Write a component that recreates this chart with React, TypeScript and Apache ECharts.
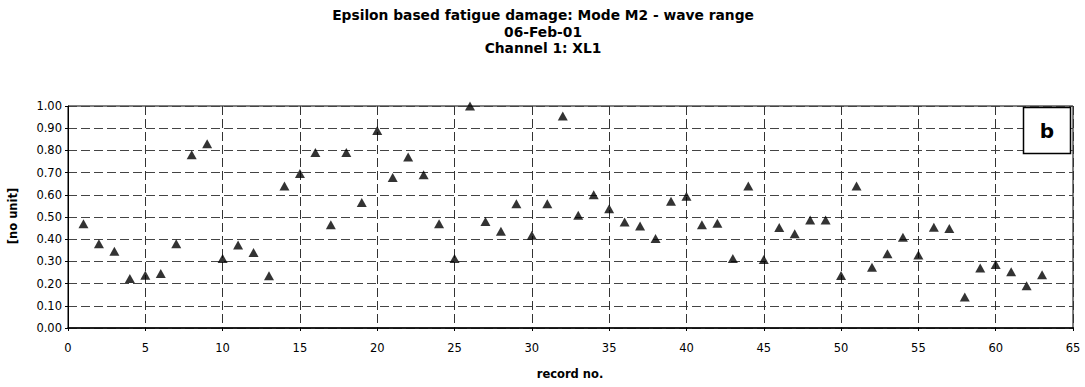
import React, { useEffect, useRef } from "react";
import * as echarts from "echarts";

const records: number[] = [
  1, 2, 3, 4, 5, 6, 7, 8, 9, 10, 11, 12, 13, 14, 15, 16, 17, 18, 19, 20, 21,
  22, 23, 24, 25, 26, 27, 28, 29, 30, 31, 32, 33, 34, 35, 36, 37, 38, 39, 40,
  41, 42, 43, 44, 45, 46, 47, 48, 49, 50, 51, 52, 53, 54, 55, 56, 57, 58, 59,
  60, 61, 62, 63,
];
const damage: number[] = [
  0.47, 0.38, 0.346, 0.223, 0.238, 0.245, 0.38, 0.78, 0.83, 0.313, 0.374,
  0.34, 0.235, 0.64, 0.696, 0.79, 0.465, 0.79, 0.565, 0.89, 0.678, 0.77, 0.69,
  0.47, 0.313, 1.0, 0.48, 0.436, 0.56, 0.418, 0.56, 0.955, 0.508, 0.6, 0.537,
  0.477, 0.459, 0.403, 0.571, 0.594, 0.465, 0.472, 0.313, 0.64, 0.308, 0.453,
  0.424, 0.487, 0.487, 0.236, 0.64, 0.274, 0.335, 0.409, 0.329, 0.454, 0.448,
  0.14, 0.27, 0.286, 0.253, 0.19, 0.24,
];
const titleLines: string[] = [
  "Epsilon based fatigue damage: Mode M2 - wave range",
  "06-Feb-01",
  "Channel 1: XL1",
];
const xAxisName = "record no.";
const yAxisName = "[no unit]";
const panelLabel = "b";

const FONT = "'DejaVu Sans', 'Liberation Sans', Arial, sans-serif";

export default function App() {
  const ref = useRef<HTMLDivElement>(null);
  useEffect(() => {
    if (!ref.current) return;
    const chart = echarts.init(ref.current, null, { renderer: "svg" });
    const data = records.map((r, i) => [r, damage[i]]);
    chart.setOption({
      animation: false,
      backgroundColor: "#fff",
      textStyle: { fontFamily: FONT },
      grid: {
        left: 68,
        right: 12,
        top: 106,
        bottom: 59,
        show: true,
        borderColor: "#000",
        borderWidth: 1,
        containLabel: false,
      },
      xAxis: {
        type: "value",
        min: 0,
        max: 65,
        interval: 5,
        axisLine: { show: true, onZero: false, lineStyle: { color: "#000", width: 1.5 } },
        axisTick: { show: true, inside: false, length: 3, lineStyle: { color: "#000" } },
        axisLabel: { color: "#000", fontSize: 11.5, fontFamily: FONT, margin: 14 },
        splitLine: { show: true, lineStyle: { color: "#333", type: [9, 4], width: 1 } },
      },
      yAxis: {
        type: "value",
        min: 0,
        max: 1,
        interval: 0.1,
        axisLine: { show: true, lineStyle: { color: "#000", width: 1 } },
        axisTick: { show: true, inside: false, length: 3, lineStyle: { color: "#000" } },
        axisLabel: {
          color: "#000",
          fontSize: 11.5,
          fontFamily: FONT,
          margin: 6,
          formatter: (v: number) => v.toFixed(2),
        },
        splitLine: { show: true, lineStyle: { color: "#444", type: [9, 4], width: 1 } },
      },
      series: [
        {
          type: "scatter",
          data,
          symbol: "triangle",
          symbolSize: [10, 9],
          itemStyle: { color: "#000" },
        },
      ],
      graphic: [
        ...titleLines.map((t, i) => ({
          type: "text",
          x: 543,
          y: 15 + i * 16.5,
          style: {
            text: t,
            fontSize: 13.8,
            fontWeight: "bold",
            fontFamily: FONT,
            fill: "#000",
            textAlign: "center",
            textVerticalAlign: "middle",
          },
        })),
        {
          type: "text",
          x: 570,
          y: 374,
          style: {
            text: xAxisName,
            fontSize: 11.5,
            fontWeight: "bold",
            fontFamily: FONT,
            fill: "#000",
            textAlign: "center",
            textVerticalAlign: "middle",
          },
        },
        {
          type: "text",
          x: 13,
          y: 216,
          rotation: Math.PI / 2,
          style: {
            text: yAxisName,
            fontSize: 11.5,
            fontWeight: "bold",
            fontFamily: FONT,
            fill: "#000",
            textAlign: "center",
            textVerticalAlign: "middle",
          },
        },
        {
          type: "rect",
          shape: { x: 1023.5, y: 107.5, width: 47, height: 46 },
          style: { fill: "#fff", stroke: "#000", lineWidth: 1.5 },
          z: 10,
        },
        {
          type: "text",
          x: 1047,
          y: 131,
          z: 11,
          style: {
            text: panelLabel,
            fontSize: 20,
            fontWeight: "bold",
            fontFamily: FONT,
            fill: "#000",
            textAlign: "center",
            textVerticalAlign: "middle",
          },
        },
      ],
    });
    return () => chart.dispose();
  }, []);
  return (
    <div
      ref={ref}
      style={{ position: "absolute", left: 0, top: 0, width: 1085, height: 387 }}
    />
  );
}
